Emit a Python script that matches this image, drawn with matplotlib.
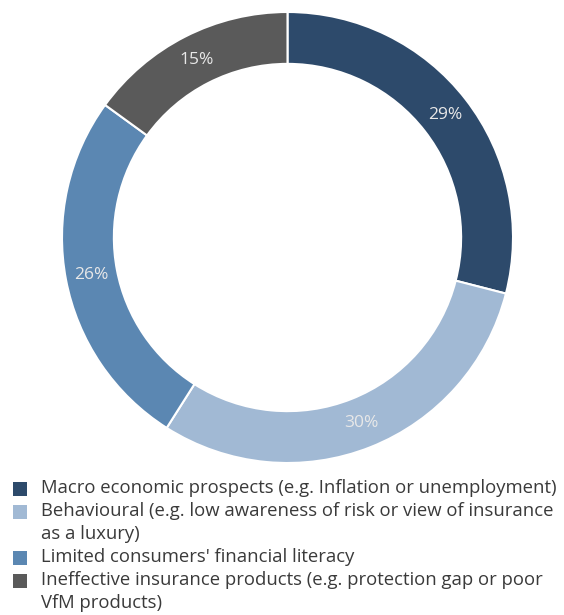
import matplotlib.pyplot as plt
from matplotlib.patches import Rectangle

plt.rcParams['font.family'] = ['Open Sans', 'DejaVu Sans']

# shares of the donut, clockwise from 12 o'clock
categories = [
    "Macro economic prospects (e.g. Inflation or unemployment)",
    "Behavioural (e.g. low awareness of risk or view of insurance\nas a luxury)",
    "Limited consumers' financial literacy",
    "Ineffective insurance products (e.g. protection gap or poor\nVfM products)",
]
values = [29, 30, 26, 15]
colors = ['#2D4A6B', '#A1B9D4', '#5B87B2', '#5A5A5A']

W, H = 564, 615
fig = plt.figure(figsize=(W / 100, H / 100), dpi=100)

# donut axes: square box in pixels
cx, cy, r = 287.5, 237.5, 225.5
ax = fig.add_axes([(cx - r) / W, 1 - (cy + r) / H, 2 * r / W, 2 * r / H])
wedges, texts = ax.pie(values, colors=colors, startangle=90, counterclock=False,
                       radius=1, labels=[f'{v}%' for v in values], labeldistance=0.885,
                       wedgeprops=dict(width=0.23, edgecolor='white', linewidth=1.5),
                       textprops=dict(color='#E8E8E8', fontsize=12.5))
for t in texts:
    t.set_ha('center')
    t.set_va('center')
ax.set_xlim(-1, 1)
ax.set_ylim(-1, 1)
ax.set_aspect('equal')
ax.axis('off')

# legend with square markers and wrapped labels
line_h = 23
y = 489
for cat, col in zip(categories, colors):
    fig.patches.append(Rectangle((13 / W, 1 - (y + 7) / H), 14 / W, 14 / H,
                                 transform=fig.transFigure, facecolor=col, edgecolor='none'))
    fig.text(41 / W, 1 - (y - 10) / H, cat, fontsize=13.3, color='#3A3A3A',
             va='top', ha='left', linespacing=1.38,
             transform=fig.transFigure)
    y += line_h * (cat.count('\n') + 1)

fig.savefig('out.png', dpi=100)
